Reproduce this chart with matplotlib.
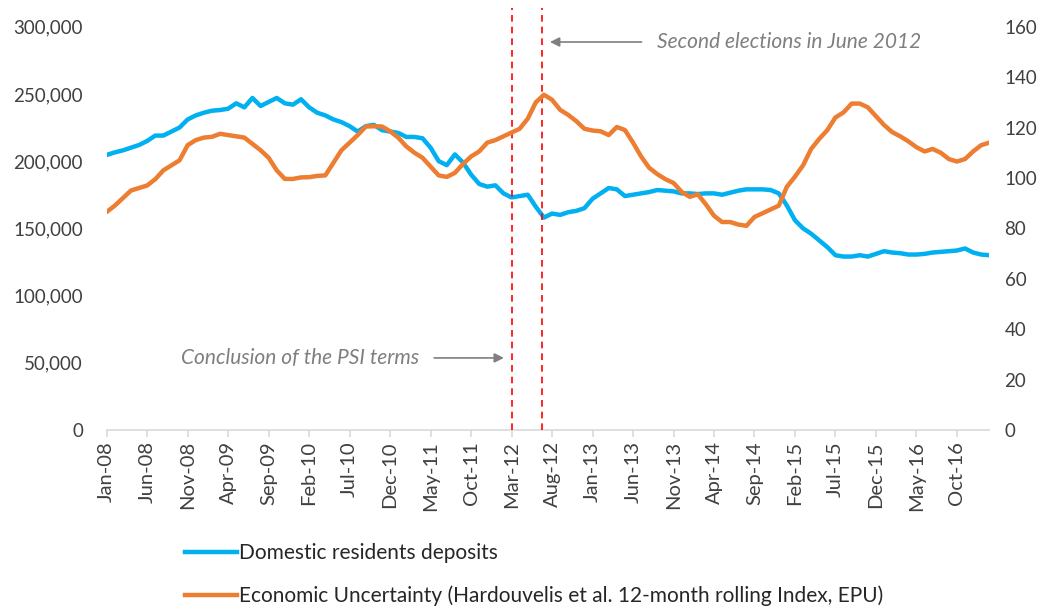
"""Domestic deposits vs economic uncertainty, Greece 2008-2017."""

import matplotlib

matplotlib.use("Agg")
import matplotlib.pyplot as plt
from matplotlib.lines import Line2D
from matplotlib.ticker import FuncFormatter

plt.rcParams["font.family"] = ["Lato", "DejaVu Sans"]

# monthly, Jan-08 .. Feb-17 (index 0..109)
deposits = [
    204.6, 206.5, 208, 210, 212, 215, 219, 219, 222, 225,
    231, 234, 236, 237.5, 238, 239, 243, 240, 247, 241,
    244, 247, 243, 242, 246, 240, 236, 234, 231, 229,
    226, 222, 226, 227, 223, 222, 221, 218, 218, 217,
    210, 200, 197, 205, 199, 190, 183, 181, 182, 176,
    173, 174, 175, 166, 158, 161, 160, 162, 163, 165,
    172, 176, 180, 179, 174, 175, 176, 177, 178.5, 178,
    177.5, 176, 176, 175.5, 176, 176, 175, 176.5, 178, 179,
    179, 179, 178.5, 176, 167, 156, 150, 146, 141, 136,
    130, 129, 129, 130, 129, 131, 133, 132, 131.5, 130.5,
    130.5, 131, 132, 132.5, 133, 133.5, 135, 132, 130.5, 130,
]
deposits = [v * 1000 for v in deposits]

uncertainty = [
    86.5, 89, 92, 95, 96, 97, 99.5, 103, 105, 107,
    113, 115, 116, 116.3, 117.5, 117, 116.5, 116, 113.5, 111,
    108, 103, 99.6, 99.6, 100.2, 100.3, 100.8, 101, 106, 111,
    114, 117, 120.4, 120.5, 120.4, 118.5, 116, 112.5, 110, 108,
    104.5, 101, 100.4, 102, 105.5, 108.5, 110.5, 114, 115, 116.5,
    118, 119.5, 123.5, 130, 133, 131, 127, 125, 122.5, 119.5,
    118.8, 118.5, 117, 120.2, 119, 114, 108.5, 104, 101.5, 99.5,
    98, 94.5, 92.5, 93.5, 89.5, 85, 82.5, 82.5, 81.5, 81,
    84.5, 86, 87.5, 89, 96.5, 100.5, 105, 111.5, 115.5, 119,
    124, 126, 129.5, 129.5, 128, 124.5, 121, 118.2, 116.5, 114.5,
    112.2, 110.5, 111.5, 110, 107.5, 106.5, 107.5, 110.5, 113, 114,
]

tick_labels = [
    "Jan-08", "Jun-08", "Nov-08", "Apr-09", "Sep-09", "Feb-10", "Jul-10",
    "Dec-10", "May-11", "Oct-11", "Mar-12", "Aug-12", "Jan-13", "Jun-13",
    "Nov-13", "Apr-14", "Sep-14", "Feb-15", "Jul-15", "Dec-15", "May-16",
    "Oct-16",
]

BLUE = "#00B0F0"
ORANGE = "#ED7D31"
GREY = "#7F7F7F"
TEXT = "#404040"

months = list(range(len(deposits)))

fig = plt.figure(figsize=(10.49, 6.08), dpi=100)
ax = fig.add_axes([0.1017, 0.2928, 0.8414, 0.6633])
ax2 = ax.twinx()

ax.plot(months, deposits, color=BLUE, lw=3.2, solid_capstyle="round", zorder=3)
ax2.plot(months, uncertainty, color=ORANGE, lw=3.2, solid_capstyle="round", zorder=3)

ax.set_xlim(0, 109)
ax.set_ylim(0, 300000)
ax2.set_ylim(0, 160)
ax.set_yticks(range(0, 300001, 50000))
ax2.set_yticks(range(0, 161, 20))
ax.yaxis.set_major_formatter(FuncFormatter(lambda v, _: f"{int(v):,}"))

ax.set_xticks(range(0, 106, 5))
ax.set_xticklabels(tick_labels, rotation=90)

for a in (ax, ax2):
    for side in ("top", "left", "right", "bottom"):
        a.spines[side].set_visible(False)
    a.tick_params(axis="y", length=0, labelsize=13.5, labelcolor=TEXT)
ax.spines["bottom"].set_visible(True)
ax.spines["bottom"].set_color("#D9D9D9")
ax.spines["bottom"].set_linewidth(1.2)
ax.tick_params(axis="y", pad=17)
ax2.tick_params(axis="y", pad=11)
ax.tick_params(axis="x", length=5, color="#D9D9D9", width=1.2,
               labelsize=14.5, labelcolor=TEXT, pad=3)

# event markers
for xv in (50, 53.8):
    ax.plot([xv, xv], [0, 314000], color="red", lw=1.2, ls=(0, (4, 3)),
            clip_on=False, zorder=4)

ax.annotate("", xy=(54.4, 288600), xytext=(66.4, 288600),
            arrowprops=dict(arrowstyle="-|>", color=GREY, lw=1.2,
                            mutation_scale=14))
ax.text(67.9, 288600, "Second elections in June 2012", color=GREY,
        style="italic", fontsize=15, va="center", ha="left")

ax.annotate("", xy=(49.4, 53600), xytext=(40.1, 53600),
            arrowprops=dict(arrowstyle="-|>", color=GREY, lw=1.2,
                            mutation_scale=14))
ax.text(38.6, 53600, "Conclusion of the PSI terms", color=GREY,
        style="italic", fontsize=15, va="center", ha="right")

handles = [
    Line2D([], [], color=BLUE, lw=3.2),
    Line2D([], [], color=ORANGE, lw=3.2),
]
labels = [
    "Domestic residents deposits",
    "Economic Uncertainty (Hardouvelis et al. 12-month rolling Index, EPU)",
]
fig.legend(handles, labels, loc="upper left", bbox_to_anchor=(0.168, 0.12),
           frameon=False, fontsize=15, handlelength=2.5, handletextpad=0.12,
           labelspacing=1.05, borderaxespad=0, labelcolor="#262626")

fig.savefig("out.png", dpi=100)
